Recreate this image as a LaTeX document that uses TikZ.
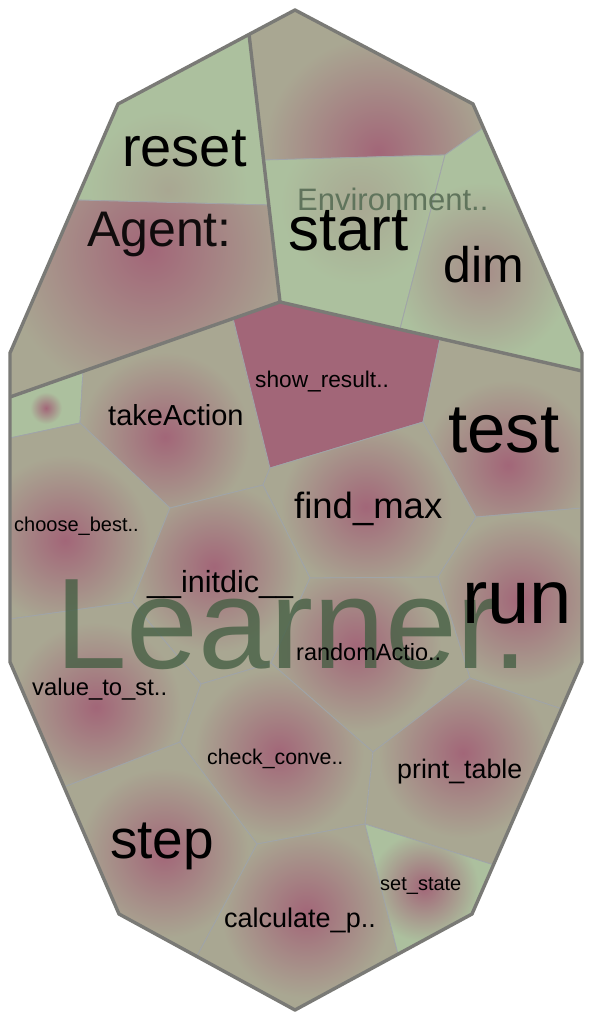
\documentclass[tikz,border=0pt]{standalone}
\usepackage{fontspec}
\setmainfont{Liberation Sans}
\definecolor{olive}{RGB}{169,167,146}
\definecolor{leaf}{RGB}{172,192,158}
\definecolor{hot}{RGB}{162,102,120}
\definecolor{warm}{RGB}{166,140,136}
\definecolor{rim}{RGB}{122,122,118}
\definecolor{seam}{RGB}{160,164,168}
\definecolor{envtext}{RGB}{96,116,92}
\definecolor{learntext}{RGB}{64,92,64}
\newcommand{\fs}[1]{\fontsize{#1}{#1}\selectfont}
% cell: polygon, centre, radius, base colour, centre colour
\newcommand{\vcell}[5]{%
  \begin{scope}
    \clip #1 -- cycle;
    \fill[#4] #1 -- cycle;
    \shade[inner color=#5, outer color=#4] (#2) circle (#3);
  \end{scope}
  \draw[seamline] #1 -- cycle;}
\tikzset{
  seamline/.style={draw=seam, line width=0.8pt},
  rimline/.style={draw=rim, line width=3.4pt, line join=round},
  lbl/.style={inner sep=0pt, anchor=base west, text=black},
}
\begin{document}
\begin{tikzpicture}[x=1pt, y=-1pt]
\useasboundingbox[fill=white] (0,0) rectangle (592,1020);
% outline
\coordinate (top) at (295,10);
\coordinate (ur) at (473,104);
\coordinate (r1) at (582,353);
\coordinate (r2) at (582,662);
\coordinate (lr) at (472,914);
\coordinate (bot) at (295,1010);
\coordinate (ll) at (119,914);
\coordinate (l2) at (10,662);
\coordinate (l1) at (10,353);
\coordinate (ul) at (118,104);
% group borders
\coordinate (ae) at (249,34);
\coordinate (hub) at (280,302);
\coordinate (al) at (10,397);
\coordinate (el) at (582,371);
% agent and environment
\coordinate (rl) at (76,200);
\coordinate (ra) at (269,205);
\coordinate (et1) at (264,160);
\coordinate (et2) at (445,155);
\coordinate (et3) at (483,128);
\coordinate (ed) at (400,329);
% learner
\coordinate (g1) at (83,371);
\coordinate (g2) at (80,423);
\coordinate (g3) at (10,438);
\coordinate (s1) at (233,318);
\coordinate (s2) at (440,339);
\coordinate (s3) at (423,422);
\coordinate (s4) at (270,468);
\coordinate (t1) at (263,485);
\coordinate (t2) at (170,508);
\coordinate (f1) at (476,517);
\coordinate (f2) at (582,508);
\coordinate (c1) at (132,602);
\coordinate (c2) at (10,619);
\coordinate (i1) at (310,578);
\coordinate (i2) at (438,577);
\coordinate (i3) at (201,684);
\coordinate (i4) at (271,663);
\coordinate (rn) at (470,678);
\coordinate (rp) at (562,709);
\coordinate (p1) at (373,752);
\coordinate (k1) at (365,824);
\coordinate (k2) at (257,844);
\coordinate (v1) at (180,742);
\coordinate (v2) at (64,787);
\coordinate (sc) at (494,865);
\coordinate (q1) at (197,956);
\coordinate (q2) at (398,954);

\vcell{(ul)--(ae)--(ra)--(rl)}{168,190}{80}{leaf}{olive}
\vcell{(rl)--(ra)--(hub)--(al)--(l1)}{150,250}{150}{olive}{hot}
\vcell{(ae)--(top)--(ur)--(et3)--(et2)--(et1)}{378,152}{115}{olive}{hot}
\vcell{(et1)--(et2)--(ed)--(hub)}{360,205}{80}{leaf}{olive}
\vcell{(et2)--(et3)--(r1)--(el)--(ed)}{482,272}{90}{leaf}{warm}

\vcell{(al)--(g1)--(g2)--(g3)}{46,408}{16}{leaf}{hot}
\vcell{(g1)--(s1)--(s4)--(t1)--(t2)--(g2)}{165,437}{85}{olive}{hot}
\fill[hot] (s1)--(hub)--(s2)--(s3)--(s4)--cycle;
\draw[seamline] (s1)--(hub)--(s2)--(s3)--(s4)--cycle;
\vcell{(s2)--(el)--(f2)--(f1)--(s3)}{508,465}{85}{olive}{hot}
\vcell{(s4)--(s3)--(f1)--(i2)--(i1)--(t1)}{366,507}{85}{olive}{hot}
\vcell{(g3)--(g2)--(t2)--(c1)--(c2)}{65,540}{85}{olive}{hot}
\vcell{(t2)--(t1)--(i1)--(i4)--(i3)--(c1)}{214,567}{85}{olive}{hot}
\vcell{(f1)--(f2)--(r2)--(rp)--(rn)--(i2)}{520,600}{85}{olive}{hot}
\vcell{(c2)--(c1)--(i3)--(v1)--(v2)--(l2)}{96,707}{85}{olive}{hot}
\vcell{(i1)--(i2)--(rn)--(p1)--(i4)}{356,647}{85}{olive}{hot}
\vcell{(i3)--(i4)--(p1)--(k1)--(k2)--(v1)}{279,753}{85}{olive}{hot}
\vcell{(rn)--(rp)--(sc)--(k1)--(p1)}{463,753}{85}{olive}{hot}
\vcell{(v2)--(v1)--(k2)--(q1)--(ll)}{164,853}{85}{olive}{hot}
\vcell{(k2)--(k1)--(q2)--(bot)--(q1)}{306,913}{85}{olive}{hot}
\vcell{(k1)--(sc)--(lr)--(q2)}{424,887}{55}{leaf}{hot}

% group borders and outline
\draw[rimline] (ae)--(hub) (al)--(hub)--(el);
\draw[rimline] (top)--(ur)--(r1)--(r2)--(lr)--(bot)--(ll)--(l2)--(l1)--(ul)--cycle;

% group labels
\node[lbl, font=\fs{50}, text=black, opacity=0.9] (agent) at (87,246) {Agent:};
\node[lbl, font=\fs{31}, text=envtext] (environment) at (297,210) {Environment..};
\node[lbl, font=\fs{129}, text=learntext, opacity=0.75] (learner) at (55,668) {Learner.};

% cell labels
\node[lbl, font=\fs{56}] (reset) at (122,166) {reset};
\node[lbl, font=\fs{62}] (start) at (288,250) {start};
\node[lbl, font=\fs{50}] (dim) at (443,282) {dim};
\node[lbl, font=\fs{22.7}] (showresult) at (255,387) {show\_result..};
\node[lbl, font=\fs{29}] (takeaction) at (108,425) {takeAction};
\node[lbl, font=\fs{69}] (test) at (448,452) {test};
\node[lbl, font=\fs{20}] (choosebest) at (14,531) {choose\_best..};
\node[lbl, font=\fs{36.5}] (findmax) at (294,518) {find\_max};
\node[lbl, font=\fs{30.5}] (initdic) at (147,592) {\_\_initdic\_\_};
\node[lbl, font=\fs{76}] (run) at (462,623) {run};
\node[lbl, font=\fs{23.5}] (randomaction) at (296,660) {randomActio..};
\node[lbl, font=\fs{23.8}] (valuetostate) at (32,695) {value\_to\_st..};
\node[lbl, font=\fs{21.3}] (checkconv) at (207,764) {check\_conve..};
\node[lbl, font=\fs{26.8}] (printtable) at (397,778) {print\_table};
\node[lbl, font=\fs{55}] (step) at (110,858) {step};
\node[lbl, font=\fs{27}] (calculate) at (224,927) {calculate\_p..};
\node[lbl, font=\fs{20}] (setstate) at (380,890) {set\_state};
\end{tikzpicture}
\end{document}
